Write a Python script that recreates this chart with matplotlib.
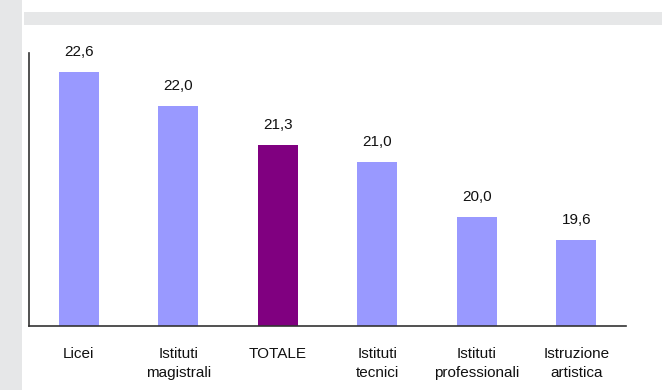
import matplotlib
matplotlib.use("Agg")
import matplotlib.pyplot as plt
from matplotlib.patches import Rectangle

categories = ["Licei", "Istituti\nmagistrali", "TOTALE", "Istituti\ntecnici",
              "Istituti\nprofessionali", "Istruzione\nartistica"]
values = [22.6, 22.0, 21.3, 21.0, 20.0, 19.6]
value_labels = ["22,6", "22,0", "21,3", "21,0", "20,0", "19,6"]
highlight = "TOTALE"

plt.rcParams["font.family"] = ["Liberation Sans Narrow", "Liberation Sans", "DejaVu Sans"]

W, H = 662, 390
fig = plt.figure(figsize=(W / 100, H / 100), dpi=100)
fig.patch.set_facecolor("white")

# grey frame: left strip and top band
panel = "#E6E7E8"
fig.add_artist(Rectangle((0, 0), 22 / W, 1, transform=fig.transFigure,
                         facecolor=panel, edgecolor="none", zorder=0))
fig.add_artist(Rectangle((24 / W, 1 - 25 / H), 1 - 24 / W, 13 / H,
                         transform=fig.transFigure, facecolor=panel,
                         edgecolor="none", zorder=0))

ax_left, ax_right = 29, 626
ax_top, ax_bottom = 53, 326
ax = fig.add_axes([ax_left / W, 1 - ax_bottom / H,
                   (ax_right - ax_left) / W, (ax_bottom - ax_top) / H])

colors = ["#800080" if c == highlight else "#9999FF" for c in categories]
x = range(len(categories))
ymin = 18.05
bars = ax.bar(x, [v - ymin for v in values], bottom=ymin, width=0.4,
              color=colors, edgecolor="none", zorder=2)

for xi, v, lab in zip(x, values, value_labels):
    ax.annotate(lab, (xi, v), xytext=(0, 14.5), textcoords="offset points",
                ha="center", va="center", fontsize=11, color="#111111")

ax.set_xlim(-0.5, len(categories) - 0.5)
ax.set_ylim(ymin, 22.95)
ax.set_xticks(list(x))
ax.set_xticklabels(categories, fontsize=11, color="#111111", linespacing=1.45)
ax.tick_params(axis="x", length=0, pad=15)
ax.set_yticks([])
for s in ["top", "right"]:
    ax.spines[s].set_visible(False)
for s in ["left", "bottom"]:
    ax.spines[s].set_color("#333333")
    ax.spines[s].set_linewidth(1.2)

fig.savefig("out.png", dpi=100)
